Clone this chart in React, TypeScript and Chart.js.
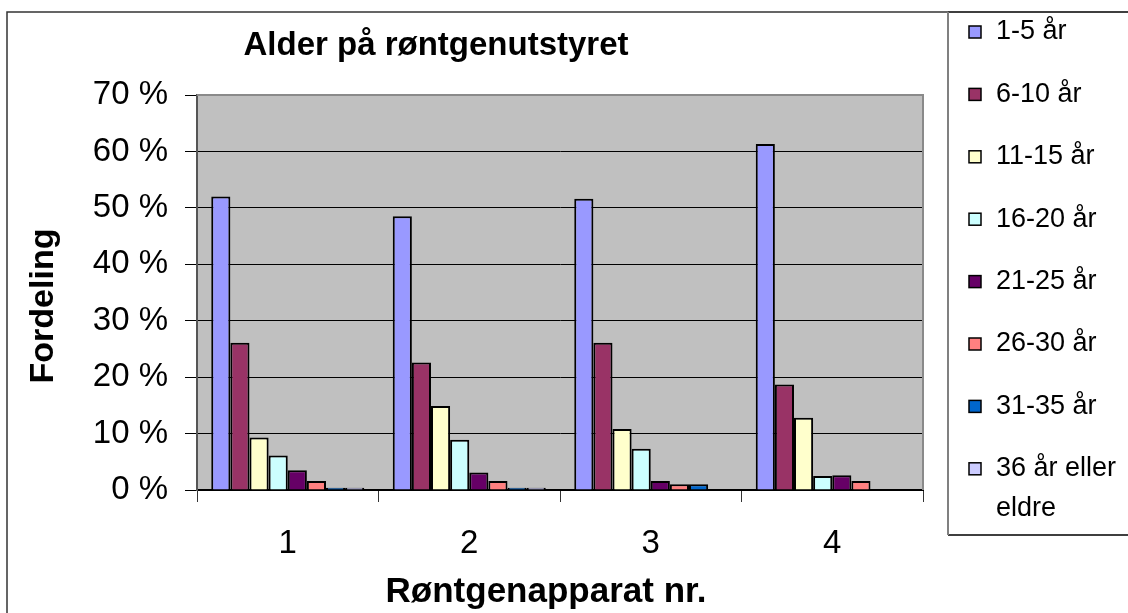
import React, { useEffect, useRef } from 'react';
import { Chart, registerables } from 'chart.js';

Chart.register(...registerables);

// ---- Data ----
const categories = ['1', '2', '3', '4'];
const seriesLabels = ['1-5 år', '6-10 år', '11-15 år', '16-20 år', '21-25 år', '26-30 år', '31-35 år', '36 år eller eldre'];
const legendLines = [['1-5 år'], ['6-10 år'], ['11-15 år'], ['16-20 år'], ['21-25 år'], ['26-30 år'], ['31-35 år'], ['36 år eller', 'eldre']];
const age1to5 = [52.0, 48.5, 51.6, 61.3];
const age6to10 = [26.1, 22.6, 26.1, 18.7];
const age11to15 = [9.3, 14.9, 10.8, 12.8];
const age16to20 = [6.1, 8.9, 7.3, 2.5];
const age21to25 = [3.5, 3.1, 1.6, 2.6];
const age26to30 = [1.6, 1.6, 1.0, 1.6];
const age31to35 = [0.4, 0.4, 1.0, 0];
const age36plus = [0.4, 0.4, 0, 0];
const seriesValues = [age1to5, age6to10, age11to15, age16to20, age21to25, age26to30, age31to35, age36plus];
const seriesColors = ['#9999FF', '#993366', '#FFFFCC', '#CCFFFF', '#660066', '#FF8080', '#0066CC', '#CCCCFF'];
const titleText = 'Alder på røntgenutstyret';
const xTitleText = 'Røntgenapparat nr.';
const yTitleText = 'Fordeling';

const FONT = '"Liberation Sans", Arial, Helvetica, sans-serif';

const W = 1128;
const H = 613;
const PLOT_LEFT = 197;
const PLOT_RIGHT = 923;
const PLOT_TOP = 95;
const PLOT_BOTTOM = 490;

const decorPlugin = {
  id: 'decor',
  beforeDraw(chart: any) {
    const { ctx, chartArea: a } = chart;
    ctx.save();
    ctx.fillStyle = '#FFFFFF';
    ctx.fillRect(0, 0, chart.width, chart.height);
    ctx.fillStyle = '#C0C0C0';
    ctx.fillRect(a.left, a.top, a.right - a.left, a.bottom - a.top);
    ctx.restore();
  },
  afterDraw(chart: any) {
    const { ctx, chartArea: a } = chart;
    ctx.save();
    // plot area top / right border (gray)
    ctx.strokeStyle = '#8A8A8A';
    ctx.lineWidth = 2;
    ctx.beginPath();
    ctx.moveTo(a.left, a.top);
    ctx.lineTo(a.right, a.top);
    ctx.lineTo(a.right, a.bottom);
    ctx.stroke();

    // outer frame
    ctx.strokeStyle = '#333333';
    ctx.lineWidth = 1.5;
    ctx.beginPath();
    ctx.moveTo(7, H);
    ctx.lineTo(7, 12);
    ctx.lineTo(948, 12);
    ctx.stroke();

    // legend box
    ctx.strokeStyle = '#000000';
    ctx.lineWidth = 1.5;
    ctx.beginPath();
    ctx.moveTo(948, 12);
    ctx.lineTo(W, 12);
    ctx.moveTo(948, 535);
    ctx.lineTo(W, 535);
    ctx.stroke();
    ctx.strokeStyle = '#808080';
    ctx.lineWidth = 2;
    ctx.beginPath();
    ctx.moveTo(948, 12);
    ctx.lineTo(948, 535);
    ctx.stroke();

    // legend items
    ctx.font = `27px ${FONT}`;
    ctx.textBaseline = 'middle';
    ctx.textAlign = 'left';
    legendLines.forEach((lines, i) => {
      const cy = 32 + i * 62.4;
      ctx.fillStyle = seriesColors[i];
      ctx.fillRect(969, cy - 6, 12, 12);
      ctx.strokeStyle = '#000';
      ctx.lineWidth = 1.5;
      ctx.strokeRect(969, cy - 6, 12, 12);
      ctx.fillStyle = '#000';
      lines.forEach((ln, j) => {
        ctx.fillText(ln, 996, cy + j * 40);
      });
    });

    // title
    ctx.fillStyle = '#000';
    ctx.font = `bold 33px ${FONT}`;
    ctx.textAlign = 'center';
    ctx.textBaseline = 'alphabetic';
    ctx.fillText(titleText, 436, 55);

    // x axis title
    ctx.font = `bold 35px ${FONT}`;
    ctx.fillText(xTitleText, 546, 602);

    // y axis title
    ctx.save();
    ctx.translate(53, 306);
    ctx.rotate(-Math.PI / 2);
    ctx.font = `bold 34px ${FONT}`;
    ctx.textAlign = 'center';
    ctx.textBaseline = 'alphabetic';
    ctx.fillText(yTitleText, 0, 0);
    ctx.restore();

    ctx.restore();
  },
};

export default function App() {
  const canvasRef = useRef<HTMLCanvasElement | null>(null);

  useEffect(() => {
    const canvas = canvasRef.current;
    if (!canvas) return;
    const chart = new Chart(canvas, {
      type: 'bar',
      data: {
        labels: categories,
        datasets: seriesLabels.map((label, i) => ({
          label,
          data: seriesValues[i],
          backgroundColor: seriesColors[i],
          borderColor: '#000000',
          borderWidth: 2,
          categoryPercentage: 0.843,
          barPercentage: 1.0,
        })),
      },
      options: {
        responsive: false,
        animation: false,
        devicePixelRatio: 1,
        layout: {
          padding: { left: 0, top: PLOT_TOP, right: W - PLOT_RIGHT, bottom: 0 },
        },
        plugins: {
          legend: { display: false },
          title: { display: false },
          tooltip: { enabled: false },
        },
        scales: {
          x: {
            type: 'category',
            offset: true,
            grid: {
              offset: true,
              drawOnChartArea: false,
              drawTicks: true,
              tickLength: 12,
              color: '#333333',
              lineWidth: 1,
            },
            border: { display: true, color: '#000000', width: 2 },
            ticks: {
              color: '#000',
              font: { family: FONT, size: 33 },
              padding: 22,
              maxRotation: 0,
            },
            afterFit(scale: any) {
              scale.height = H - PLOT_BOTTOM;
            },
          },
          y: {
            min: 0,
            max: 70,
            ticks: {
              stepSize: 10,
              color: '#000',
              font: { family: FONT, size: 33 },
              padding: 17,
              callback: (v: any) => `${v} %`,
            },
            grid: {
              color: '#000000',
              lineWidth: 1,
              drawTicks: true,
              tickLength: 12,
            },
            border: { display: true, color: '#555555', width: 2 },
            afterFit(scale: any) {
              scale.width = PLOT_LEFT;
            },
          },
        },
      },
      plugins: [decorPlugin],
    } as any);
    return () => chart.destroy();
  }, []);

  return (
    <div style={{ position: 'absolute', left: 0, top: 0, width: W, height: H, background: '#fff' }}>
      <canvas ref={canvasRef} width={W} height={H} style={{ display: 'block', width: W, height: H }} />
    </div>
  );
}
